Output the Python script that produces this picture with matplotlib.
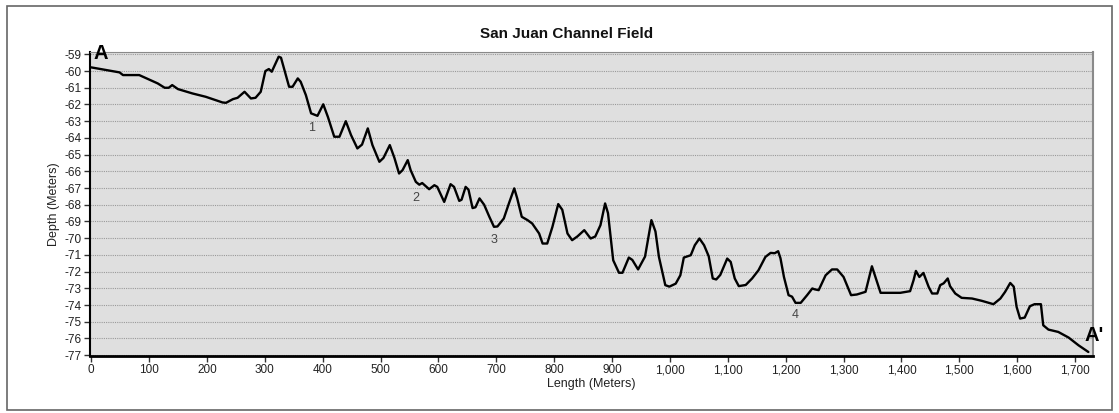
import matplotlib
matplotlib.use("Agg")
from matplotlib import pyplot as plt
from matplotlib.patches import Rectangle
from matplotlib.ticker import FuncFormatter

plt.rcParams['font.family'] = ['Liberation Sans', 'DejaVu Sans']

# Profile along A - A' (length in meters, depth in meters)
length_m = [0, 26, 49, 55, 83, 115, 127, 134, 140, 150, 175, 198, 227, 233, 245, 253,
            265, 276, 284, 293, 301, 307, 312, 324, 328, 342, 348, 357, 362, 371,
            380, 391, 401, 409, 420, 429, 440, 449, 460, 468, 478, 486, 498, 505,
            516, 524, 532, 538, 547, 552, 561, 567, 572, 584, 593, 598, 610, 621,
            627, 636, 640, 647, 652, 659, 664, 671, 679, 688, 696, 702, 713, 722,
            731, 736, 744, 754, 762, 774, 780, 788, 797, 807, 814, 823, 831, 840,
            852, 863, 871, 880, 888, 893, 902, 912, 918, 929, 935, 945, 957, 968,
            975, 981, 992, 999, 1010, 1018, 1024, 1036, 1043, 1051, 1059, 1067,
            1074, 1080, 1087, 1099, 1105, 1112, 1119, 1131, 1142, 1153, 1165,
            1174, 1181, 1187, 1191, 1197, 1205, 1211, 1217, 1226, 1237, 1246,
            1250, 1257, 1269, 1280, 1289, 1300, 1306, 1313, 1323, 1338, 1343,
            1349, 1355, 1364, 1398, 1415, 1421, 1425, 1431, 1438, 1447, 1453,
            1462, 1467, 1473, 1480, 1484, 1493, 1504, 1522, 1539, 1559, 1571,
            1579, 1588, 1594, 1599, 1605, 1613, 1622, 1630, 1641, 1645, 1654,
            1671, 1689, 1706, 1723]
depth_m = [-59.78, -59.94, -60.08, -60.24, -60.24, -60.74, -61.0, -61.0, -60.84,
           -61.08, -61.34, -61.54, -61.88, -61.9, -61.68, -61.6, -61.24, -61.64,
           -61.6, -61.24, -60.0, -59.88, -60.04, -59.14, -59.2, -60.94, -60.94,
           -60.44, -60.64, -61.44, -62.53, -62.68, -61.99, -62.74, -63.93, -63.93,
           -63.0, -63.83, -64.63, -64.4, -63.43, -64.43, -65.43, -65.2, -64.43,
           -65.2, -66.13, -65.93, -65.33, -65.93, -66.63, -66.8, -66.7, -67.07,
           -66.83, -66.93, -67.83, -66.77, -66.93, -67.77, -67.7, -66.93, -67.1,
           -68.2, -68.15, -67.62, -68.0, -68.72, -69.32, -69.3, -68.82, -67.9,
           -67.02, -67.6, -68.72, -68.92, -69.12, -69.72, -70.32, -70.32, -69.32,
           -67.96, -68.3, -69.72, -70.12, -69.9, -69.52, -70.02, -69.9, -69.22,
           -67.92, -68.5, -71.32, -72.07, -72.07, -71.16, -71.3, -71.87, -71.1,
           -68.92, -69.6, -71.12, -72.81, -72.9, -72.72, -72.22, -71.16, -71.02,
           -70.42, -70.02, -70.42, -71.08, -72.41, -72.47, -72.2, -71.22, -71.42,
           -72.41, -72.87, -72.8, -72.41, -71.92, -71.12, -70.88, -70.9, -70.78,
           -71.2, -72.32, -73.41, -73.5, -73.87, -73.87, -73.41, -73.01, -73.06,
           -73.11, -72.22, -71.87, -71.87, -72.32, -72.82, -73.41, -73.37, -73.21,
           -72.51, -71.68, -72.32, -73.27, -73.27, -73.17, -72.51, -71.96, -72.32,
           -72.08, -72.91, -73.31, -73.31, -72.81, -72.7, -72.41, -72.87, -73.31,
           -73.57, -73.61, -73.75, -73.95, -73.61, -73.22, -72.68, -72.9, -74.11,
           -74.81, -74.75, -74.07, -73.95, -73.95, -75.21, -75.47, -75.61, -75.95,
           -76.41, -76.81]

# Numbered features along the profile
feature_labels = ["1", "2", "3", "4"]
feature_x = [380, 561, 696, 1216]
feature_y = [-63.4, -67.6, -70.1, -74.6]

x_ticks = list(range(0, 1800, 100))
y_ticks = list(range(-77, -58))

fig = plt.figure(figsize=(11.19, 4.13), dpi=100)
fig.patches.append(Rectangle((7 / 1119, 3 / 413), 1105 / 1119, 404 / 413,
                             transform=fig.transFigure, fill=False,
                             edgecolor="#666666", linewidth=1.2))

ax = fig.add_axes([90 / 1119, 1 - 356 / 413, 1003 / 1119, 304 / 413])
ax.set_facecolor("#dfdfdf")

ax.plot(length_m, depth_m, color="black", linewidth=1.7,
        solid_joinstyle="round", solid_capstyle="round")

ax.set_xlim(-2, 1731)
ax.set_ylim(-77.05, -58.86)
ax.set_xticks(x_ticks)
ax.set_yticks(y_ticks)
ax.xaxis.set_major_formatter(FuncFormatter(lambda v, p: f"{int(v):,}"))
ax.yaxis.set_major_formatter(FuncFormatter(lambda v, p: f"-{abs(int(v))}"))
ax.tick_params(axis="both", labelsize=8.5, labelcolor="#222222", length=4,
               width=1, color="#333333", pad=2)

ax.grid(axis="y", color="#9a9a9a", linestyle=(0, (1, 1)), linewidth=0.8)
ax.set_axisbelow(True)

ax.spines["left"].set_linewidth(1.5)
ax.spines["bottom"].set_linewidth(2)
ax.spines["top"].set_color("#8a8a8a")
ax.spines["right"].set_color("#8a8a8a")
ax.spines["right"].set_linewidth(1.5)

ax.set_xlabel("Length (Meters)", fontsize=9, color="#222222", labelpad=1)
ax.set_ylabel("Depth (Meters)", fontsize=9, color="#222222", labelpad=3)
fig.text(567 / 1119, 1 - 34 / 413, "San Juan Channel Field", ha="center",
         va="center", fontsize=11, fontweight="bold", color="#111111")

for label, fx, fy in zip(feature_labels, feature_x, feature_y):
    ax.text(fx, fy, label, ha="center", va="center", fontsize=9, color="#444444")

ax.text(17, -58.95, "A", ha="center", va="center", fontsize=14.5,
        fontweight="bold", clip_on=False)
ax.text(1733, -75.85, "A'", ha="center", va="center", fontsize=14.5,
        fontweight="bold", clip_on=False)

fig.savefig("out.png", dpi=100)
